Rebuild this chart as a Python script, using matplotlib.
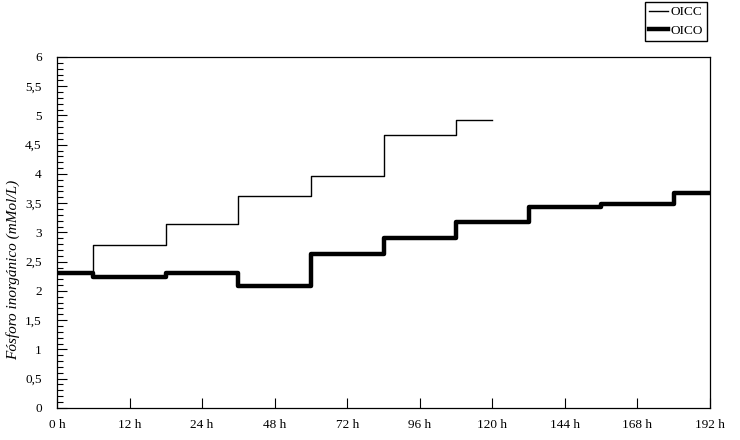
import matplotlib.pyplot as plt
from matplotlib.ticker import FuncFormatter, MultipleLocator

# Data
tiempos = ['0 h', '12 h', '24 h', '48 h', '72 h', '96 h', '120 h', '144 h', '168 h', '192 h']
oicc = [2.3, 2.78, 3.15, 3.63, 3.96, 4.66, 4.93]
oico = [2.3, 2.23, 2.3, 2.08, 2.63, 2.91, 3.17, 3.43, 3.48, 3.67]

plt.rcParams['font.family'] = ['Liberation Serif', 'DejaVu Serif']
plt.rcParams['font.size'] = 9.5

fig = plt.figure(figsize=(7.4, 4.4), dpi=100)
ax = fig.add_axes([0.077, 0.073, 0.8825, 0.7975])

ax.step(range(len(oicc)), oicc, where='mid', color='black', lw=1.0, label='OICC')
ax.step(range(len(oico)), oico, where='mid', color='black', lw=3.2, label='OICO')

ax.set_xlim(0, len(tiempos) - 1)
ax.set_ylim(0, 6)
ax.set_xticks(range(len(tiempos)))
ax.set_xticklabels(tiempos)
ax.yaxis.set_major_locator(MultipleLocator(0.5))
ax.yaxis.set_minor_locator(MultipleLocator(0.1))
ax.yaxis.set_major_formatter(FuncFormatter(lambda v, p: ('%g' % v).replace('.', ',')))
ax.tick_params(axis='both', direction='in', length=7, width=0.8)
ax.tick_params(axis='y', which='minor', direction='in', length=4, width=0.8)
ax.tick_params(axis='y', pad=11)
ax.tick_params(axis='x', pad=8)
for s in ax.spines.values():
    s.set_linewidth(0.9)

ax.set_ylabel('Fósforo inorgánico (mMol/L)', style='italic', fontsize=11)
ax.yaxis.set_label_coords(-0.056, 0.393)

fig.legend(loc='upper right', bbox_to_anchor=(0.955, 0.995), fancybox=False,
           edgecolor='black', framealpha=1, handlelength=1.4, handletextpad=0.2,
           borderpad=0.3, labelspacing=0.45, borderaxespad=0, fontsize=9.5)

plt.savefig('out.png', dpi=100)
